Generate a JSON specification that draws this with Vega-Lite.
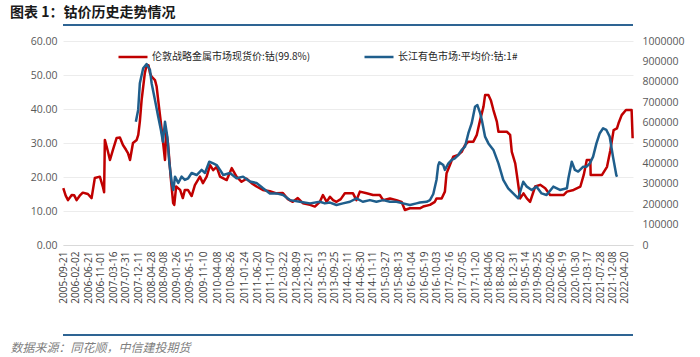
{
  "$schema": "https://vega.github.io/schema/vega-lite/v6.json",
  "width": 570,
  "height": 204,
  "autosize": {"type": "none"},
  "padding": {"left": 63, "top": 41, "right": 67, "bottom": 112},
  "background": "white",
  "title": {"text": "图表 1：钴价历史走势情况", "anchor": "start", "frame": "group", "dx": -53, "offset": 4, "fontSize": 14, "fontWeight": "bold", "font": "Noto Sans CJK SC", "color": "#1a1a1a"},
  "config": {"view": {"stroke": null}, "axis": {"labelOverlap": false, "ticks": false, "tickSize": 0}},
  "datasets": {
    "lme": [
      {"d": "2005-09-24", "v": 16.7}, {"d": "2005-10-20", "v": 14.5}, {"d": "2005-11-14", "v": 13.2}, {"d": "2005-12-24", "v": 14.7},
      {"d": "2006-01-20", "v": 14.6}, {"d": "2006-02-15", "v": 13.2}, {"d": "2006-03-20", "v": 14.5}, {"d": "2006-04-22", "v": 15.4},
      {"d": "2006-06-16", "v": 15.0}, {"d": "2006-07-26", "v": 13.8}, {"d": "2006-08-30", "v": 19.7}, {"d": "2006-10-23", "v": 20.1},
      {"d": "2006-11-24", "v": 17.2}, {"d": "2006-12-08", "v": 15.5}, {"d": "2006-12-16", "v": 30.9}, {"d": "2007-01-18", "v": 27.5},
      {"d": "2007-02-09", "v": 25.0}, {"d": "2007-03-13", "v": 28.0}, {"d": "2007-04-22", "v": 31.5}, {"d": "2007-05-27", "v": 31.6},
      {"d": "2007-06-29", "v": 29.4}, {"d": "2007-08-01", "v": 28.0}, {"d": "2007-08-22", "v": 27.0}, {"d": "2007-09-13", "v": 25.0},
      {"d": "2007-10-15", "v": 30.0}, {"d": "2007-11-24", "v": 30.9}, {"d": "2007-12-11", "v": 32.4}, {"d": "2007-12-28", "v": 36.3},
      {"d": "2008-01-16", "v": 42.6}, {"d": "2008-02-20", "v": 50.6}, {"d": "2008-03-10", "v": 52.9}, {"d": "2008-03-30", "v": 52.9},
      {"d": "2008-04-15", "v": 50.6}, {"d": "2008-05-03", "v": 49.5}, {"d": "2008-06-08", "v": 48.5}, {"d": "2008-06-26", "v": 46.6},
      {"d": "2008-07-21", "v": 40.7}, {"d": "2008-08-20", "v": 33.8}, {"d": "2008-09-24", "v": 25.0}, {"d": "2008-10-08", "v": 33.0},
      {"d": "2008-10-26", "v": 30.0}, {"d": "2008-11-24", "v": 20.1}, {"d": "2008-12-21", "v": 12.3}, {"d": "2009-01-02", "v": 11.8},
      {"d": "2009-01-22", "v": 17.2}, {"d": "2009-03-06", "v": 16.2}, {"d": "2009-04-04", "v": 13.8}, {"d": "2009-04-26", "v": 16.2},
      {"d": "2009-05-29", "v": 16.2}, {"d": "2009-07-08", "v": 14.4}, {"d": "2009-08-12", "v": 17.6}, {"d": "2009-10-05", "v": 20.1},
      {"d": "2009-11-07", "v": 18.2}, {"d": "2009-12-17", "v": 20.1}, {"d": "2010-01-23", "v": 23.5}, {"d": "2010-02-25", "v": 22.0},
      {"d": "2010-04-04", "v": 23.0}, {"d": "2010-05-10", "v": 20.1}, {"d": "2010-07-21", "v": 19.1}, {"d": "2010-09-13", "v": 22.6},
      {"d": "2010-11-04", "v": 20.1}, {"d": "2010-12-28", "v": 18.6}, {"d": "2011-02-20", "v": 19.5}, {"d": "2011-04-15", "v": 18.2},
      {"d": "2011-06-07", "v": 17.2}, {"d": "2011-08-14", "v": 16.2}, {"d": "2011-10-29", "v": 15.8}, {"d": "2012-01-08", "v": 15.2},
      {"d": "2012-03-17", "v": 15.3}, {"d": "2012-05-10", "v": 13.5}, {"d": "2012-07-02", "v": 12.7}, {"d": "2012-08-25", "v": 13.8},
      {"d": "2012-10-19", "v": 12.3}, {"d": "2013-01-04", "v": 11.8}, {"d": "2013-02-25", "v": 11.3}, {"d": "2013-04-20", "v": 12.7},
      {"d": "2013-05-23", "v": 14.7}, {"d": "2013-07-02", "v": 12.7}, {"d": "2013-08-07", "v": 14.2}, {"d": "2013-09-09", "v": 13.2},
      {"d": "2013-10-16", "v": 12.7}, {"d": "2013-12-01", "v": 13.5}, {"d": "2014-01-14", "v": 15.2}, {"d": "2014-04-12", "v": 15.2},
      {"d": "2014-05-19", "v": 13.2}, {"d": "2014-06-25", "v": 15.7}, {"d": "2014-09-06", "v": 15.2}, {"d": "2014-11-14", "v": 14.7},
      {"d": "2015-01-26", "v": 14.7}, {"d": "2015-03-03", "v": 13.2}, {"d": "2015-05-15", "v": 13.7}, {"d": "2015-07-24", "v": 13.2},
      {"d": "2015-09-17", "v": 12.7}, {"d": "2015-10-23", "v": 10.3}, {"d": "2015-12-16", "v": 10.8}, {"d": "2016-04-01", "v": 10.8},
      {"d": "2016-05-07", "v": 11.3}, {"d": "2016-07-19", "v": 11.8}, {"d": "2016-09-10", "v": 12.7}, {"d": "2016-09-28", "v": 13.7},
      {"d": "2016-11-22", "v": 13.7}, {"d": "2016-12-27", "v": 15.7}, {"d": "2017-01-14", "v": 21.1}, {"d": "2017-02-19", "v": 23.5},
      {"d": "2017-03-27", "v": 26.0}, {"d": "2017-05-20", "v": 26.5}, {"d": "2017-06-26", "v": 27.4}, {"d": "2017-08-01", "v": 29.4},
      {"d": "2017-09-06", "v": 30.4}, {"d": "2017-10-30", "v": 30.4}, {"d": "2017-12-06", "v": 32.4}, {"d": "2018-01-11", "v": 36.8},
      {"d": "2018-02-16", "v": 40.7}, {"d": "2018-03-05", "v": 44.1}, {"d": "2018-04-10", "v": 44.1}, {"d": "2018-05-06", "v": 42.6},
      {"d": "2018-06-03", "v": 39.7}, {"d": "2018-07-10", "v": 36.3}, {"d": "2018-07-27", "v": 33.3}, {"d": "2018-10-26", "v": 33.3},
      {"d": "2018-11-30", "v": 32.4}, {"d": "2018-12-18", "v": 27.4}, {"d": "2019-01-24", "v": 24.0}, {"d": "2019-02-11", "v": 20.6},
      {"d": "2019-03-18", "v": 13.7}, {"d": "2019-04-23", "v": 15.2}, {"d": "2019-05-29", "v": 13.7}, {"d": "2019-07-03", "v": 12.7},
      {"d": "2019-08-27", "v": 17.2}, {"d": "2019-10-20", "v": 17.7}, {"d": "2019-12-13", "v": 16.7}, {"d": "2020-02-04", "v": 14.7},
      {"d": "2020-06-27", "v": 14.7}, {"d": "2020-08-03", "v": 15.7}, {"d": "2020-10-14", "v": 16.2}, {"d": "2020-12-26", "v": 17.2},
      {"d": "2021-01-31", "v": 20.6}, {"d": "2021-03-05", "v": 25.0}, {"d": "2021-04-12", "v": 25.0}, {"d": "2021-04-16", "v": 20.6},
      {"d": "2021-08-16", "v": 20.6}, {"d": "2021-10-09", "v": 23.0}, {"d": "2021-11-14", "v": 27.9}, {"d": "2021-12-19", "v": 33.8},
      {"d": "2022-01-24", "v": 34.3}, {"d": "2022-02-10", "v": 35.8}, {"d": "2022-03-16", "v": 38.2}, {"d": "2022-05-01", "v": 39.7},
      {"d": "2022-07-01", "v": 39.7}, {"d": "2022-07-12", "v": 31.4}
    ],
    "cj": [
      {"d": "2007-11-15", "v": 604000}, {"d": "2007-12-10", "v": 662000}, {"d": "2007-12-28", "v": 793000}, {"d": "2008-02-02", "v": 866000},
      {"d": "2008-03-10", "v": 887000}, {"d": "2008-04-15", "v": 858000}, {"d": "2008-05-03", "v": 793000}, {"d": "2008-06-08", "v": 711000},
      {"d": "2008-07-13", "v": 629000}, {"d": "2008-08-11", "v": 564000}, {"d": "2008-09-02", "v": 506000}, {"d": "2008-09-24", "v": 604000},
      {"d": "2008-10-19", "v": 531000}, {"d": "2008-11-10", "v": 402000}, {"d": "2008-12-06", "v": 304000}, {"d": "2008-12-23", "v": 270000},
      {"d": "2009-01-10", "v": 335000}, {"d": "2009-02-14", "v": 304000}, {"d": "2009-03-22", "v": 335000}, {"d": "2009-04-26", "v": 319000},
      {"d": "2009-06-01", "v": 327000}, {"d": "2009-07-08", "v": 353000}, {"d": "2009-08-31", "v": 343000}, {"d": "2009-10-24", "v": 368000},
      {"d": "2009-11-29", "v": 353000}, {"d": "2010-01-14", "v": 408000}, {"d": "2010-02-26", "v": 400000}, {"d": "2010-04-04", "v": 392000},
      {"d": "2010-05-10", "v": 368000}, {"d": "2010-06-14", "v": 343000}, {"d": "2010-08-25", "v": 353000}, {"d": "2010-11-04", "v": 327000},
      {"d": "2011-01-14", "v": 335000}, {"d": "2011-03-28", "v": 311000}, {"d": "2011-06-07", "v": 304000}, {"d": "2011-08-17", "v": 278000},
      {"d": "2011-10-29", "v": 253000}, {"d": "2012-01-08", "v": 253000}, {"d": "2012-03-20", "v": 245000}, {"d": "2012-06-01", "v": 220000},
      {"d": "2012-09-16", "v": 212000}, {"d": "2013-01-04", "v": 204000}, {"d": "2013-04-20", "v": 212000}, {"d": "2013-06-13", "v": 204000},
      {"d": "2013-08-07", "v": 208000}, {"d": "2013-10-16", "v": 196000}, {"d": "2013-12-24", "v": 204000}, {"d": "2014-03-10", "v": 212000},
      {"d": "2014-05-19", "v": 229000}, {"d": "2014-07-26", "v": 212000}, {"d": "2014-10-11", "v": 220000}, {"d": "2014-12-20", "v": 212000},
      {"d": "2015-03-03", "v": 220000}, {"d": "2015-05-15", "v": 212000}, {"d": "2015-07-24", "v": 212000}, {"d": "2015-10-04", "v": 204000},
      {"d": "2015-12-16", "v": 196000}, {"d": "2016-02-25", "v": 204000}, {"d": "2016-04-01", "v": 208000}, {"d": "2016-06-13", "v": 212000},
      {"d": "2016-07-19", "v": 220000}, {"d": "2016-08-24", "v": 250000}, {"d": "2016-09-28", "v": 320000}, {"d": "2016-10-16", "v": 390000},
      {"d": "2016-10-28", "v": 405000}, {"d": "2016-12-10", "v": 392000}, {"d": "2016-12-27", "v": 368000}, {"d": "2017-02-03", "v": 400000},
      {"d": "2017-03-11", "v": 417000}, {"d": "2017-04-13", "v": 425000}, {"d": "2017-05-20", "v": 441000}, {"d": "2017-06-26", "v": 466000},
      {"d": "2017-08-01", "v": 482000}, {"d": "2017-09-06", "v": 548000}, {"d": "2017-10-12", "v": 597000}, {"d": "2017-11-17", "v": 678000},
      {"d": "2017-12-12", "v": 686000}, {"d": "2018-01-11", "v": 646000}, {"d": "2018-01-29", "v": 613000}, {"d": "2018-03-05", "v": 531000},
      {"d": "2018-04-10", "v": 498000}, {"d": "2018-06-03", "v": 466000}, {"d": "2018-07-27", "v": 400000}, {"d": "2018-09-17", "v": 319000},
      {"d": "2018-11-09", "v": 278000}, {"d": "2019-01-02", "v": 253000}, {"d": "2019-02-25", "v": 229000}, {"d": "2019-04-20", "v": 310000},
      {"d": "2019-05-29", "v": 286000}, {"d": "2019-07-20", "v": 270000}, {"d": "2019-09-11", "v": 286000}, {"d": "2019-11-04", "v": 253000},
      {"d": "2019-12-28", "v": 245000}, {"d": "2020-03-09", "v": 286000}, {"d": "2020-05-20", "v": 270000}, {"d": "2020-08-03", "v": 278000},
      {"d": "2020-08-19", "v": 327000}, {"d": "2020-09-24", "v": 408000}, {"d": "2020-10-28", "v": 368000}, {"d": "2020-12-02", "v": 360000},
      {"d": "2021-01-26", "v": 384000}, {"d": "2021-03-03", "v": 384000}, {"d": "2021-04-07", "v": 400000}, {"d": "2021-05-12", "v": 433000},
      {"d": "2021-06-17", "v": 498000}, {"d": "2021-07-23", "v": 548000}, {"d": "2021-08-28", "v": 572000}, {"d": "2021-10-02", "v": 564000},
      {"d": "2021-11-07", "v": 531000}, {"d": "2021-12-12", "v": 433000}, {"d": "2022-01-17", "v": 343000}, {"d": "2022-01-25", "v": 335000}
    ],
    "frame": [{"part": "line"}]
  },
  "layer": [
    {
      "data": {"name": "frame"},
      "mark": {"type": "rule", "color": "#2E6493", "strokeWidth": 2},
      "encoding": {
        "y": {"datum": 64.7, "type": "quantitative", "scale": {"domain": [0, 60]}, "axis": null}
      }
    },
    {
      "data": {"name": "frame"},
      "mark": {"type": "rule", "color": "#2E6493", "strokeWidth": 2},
      "encoding": {
        "y": {"datum": -26.5, "type": "quantitative", "scale": {"domain": [0, 60]}, "axis": null}
      }
    },
    {
      "data": {"name": "lme"},
      "mark": {"type": "line", "strokeWidth": 2.5, "strokeJoin": "round"},
      "encoding": {
        "x": {
          "field": "d", "type": "temporal",
          "scale": {"type": "utc", "domain": [{"year": 2005, "month": 9, "date": 21, "utc": true}, {"year": 2022, "month": 7, "date": 16, "utc": true}]},
          "axis": {
            "values": [
              {"year": 2005, "month": 9, "date": 21, "utc": true}, {"year": 2006, "month": 2, "date": 2, "utc": true},
              {"year": 2006, "month": 6, "date": 21, "utc": true}, {"year": 2006, "month": 11, "date": 1, "utc": true},
              {"year": 2007, "month": 3, "date": 16, "utc": true}, {"year": 2007, "month": 7, "date": 31, "utc": true},
              {"year": 2007, "month": 12, "date": 11, "utc": true}, {"year": 2008, "month": 4, "date": 28, "utc": true},
              {"year": 2008, "month": 9, "date": 8, "utc": true}, {"year": 2009, "month": 1, "date": 26, "utc": true},
              {"year": 2009, "month": 6, "date": 15, "utc": true}, {"year": 2009, "month": 11, "date": 10, "utc": true},
              {"year": 2010, "month": 4, "date": 8, "utc": true}, {"year": 2010, "month": 8, "date": 26, "utc": true},
              {"year": 2011, "month": 1, "date": 24, "utc": true}, {"year": 2011, "month": 6, "date": 20, "utc": true},
              {"year": 2011, "month": 11, "date": 7, "utc": true}, {"year": 2012, "month": 3, "date": 22, "utc": true},
              {"year": 2012, "month": 8, "date": 9, "utc": true}, {"year": 2012, "month": 12, "date": 21, "utc": true},
              {"year": 2013, "month": 5, "date": 13, "utc": true}, {"year": 2013, "month": 9, "date": 25, "utc": true},
              {"year": 2014, "month": 2, "date": 11, "utc": true}, {"year": 2014, "month": 6, "date": 30, "utc": true},
              {"year": 2014, "month": 11, "date": 11, "utc": true}, {"year": 2015, "month": 3, "date": 27, "utc": true},
              {"year": 2015, "month": 8, "date": 13, "utc": true}, {"year": 2016, "month": 1, "date": 4, "utc": true},
              {"year": 2016, "month": 5, "date": 19, "utc": true}, {"year": 2016, "month": 10, "date": 3, "utc": true},
              {"year": 2017, "month": 2, "date": 16, "utc": true}, {"year": 2017, "month": 7, "date": 5, "utc": true},
              {"year": 2017, "month": 11, "date": 20, "utc": true}, {"year": 2018, "month": 4, "date": 6, "utc": true},
              {"year": 2018, "month": 8, "date": 20, "utc": true}, {"year": 2018, "month": 12, "date": 31, "utc": true},
              {"year": 2019, "month": 5, "date": 14, "utc": true}, {"year": 2019, "month": 9, "date": 25, "utc": true},
              {"year": 2020, "month": 2, "date": 6, "utc": true}, {"year": 2020, "month": 6, "date": 19, "utc": true},
              {"year": 2020, "month": 10, "date": 30, "utc": true}, {"year": 2021, "month": 3, "date": 17, "utc": true},
              {"year": 2021, "month": 7, "date": 28, "utc": true}, {"year": 2021, "month": 12, "date": 8, "utc": true},
              {"year": 2022, "month": 4, "date": 20, "utc": true}
            ],
            "format": "%Y-%m-%d",
            "labelAngle": 270, "labelAlign": "right", "labelBaseline": "middle",
            "labelFontSize": 10, "labelColor": "#404040", "labelFont": "Open Sans",
            "labelOverlap": false, "labelPadding": 6, "grid": false,
            "domainColor": "#d9d9d9", "domainWidth": 1,
            "title": "数据来源：同花顺，中信建投期货",
            "titleX": -53, "titleY": 106, "titleAlign": "left", "titleAngle": 0, "titleBaseline": "alphabetic",
            "titleFontStyle": "italic", "titleFontWeight": "normal", "titleColor": "#7f7f7f", "titleFontSize": 12,
            "titleFont": "Noto Sans CJK SC"
          }
        },
        "y": {
          "field": "v", "type": "quantitative",
          "scale": {"domain": [0, 60]},
          "axis": {
            "values": [0, 10, 20, 30, 40, 50, 60], "format": ".2f",
            "labelFontSize": 10.5, "labelColor": "#595959", "labelFont": "Open Sans",
            "labelOverlap": false, "labelPadding": 6, "domain": false,
            "grid": true, "gridColor": "#ececec", "title": null
          }
        },
        "color": {
          "datum": "伦敦战略金属市场现货价:钴(99.8%)",
          "scale": {"domain": ["伦敦战略金属市场现货价:钴(99.8%)", "长江有色市场:平均价:钴:1#"], "range": ["#C00000", "#1F5E8C"]},
          "legend": {
            "orient": "none", "legendX": 54, "legendY": 0, "direction": "horizontal", "title": null,
            "symbolType": "stroke", "symbolSize": 841, "symbolStrokeWidth": 2.5,
            "labelFontSize": 10, "labelFont": "Noto Sans CJK SC", "labelColor": "#262626", "labelLimit": 400,
            "labelOffset": 3, "columnPadding": 48, "padding": 0
          }
        }
      }
    },
    {
      "data": {"name": "cj"},
      "mark": {"type": "line", "strokeWidth": 2.5, "strokeJoin": "round"},
      "encoding": {
        "x": {
          "field": "d", "type": "temporal",
          "scale": {"type": "utc", "domain": [{"year": 2005, "month": 9, "date": 21, "utc": true}, {"year": 2022, "month": 7, "date": 16, "utc": true}]},
          "axis": null
        },
        "y": {
          "field": "v", "type": "quantitative",
          "scale": {"domain": [0, 1000000]},
          "axis": {
            "orient": "right",
            "values": [0, 100000, 200000, 300000, 400000, 500000, 600000, 700000, 800000, 900000, 1000000],
            "format": "d",
            "labelFontSize": 10.5, "labelColor": "#595959", "labelFont": "Open Sans",
            "labelOverlap": false, "labelPadding": 9, "domain": false, "grid": false, "title": null
          }
        },
        "color": {"datum": "长江有色市场:平均价:钴:1#"}
      }
    }
  ],
  "resolve": {"scale": {"y": "independent", "x": "independent"}}
}
